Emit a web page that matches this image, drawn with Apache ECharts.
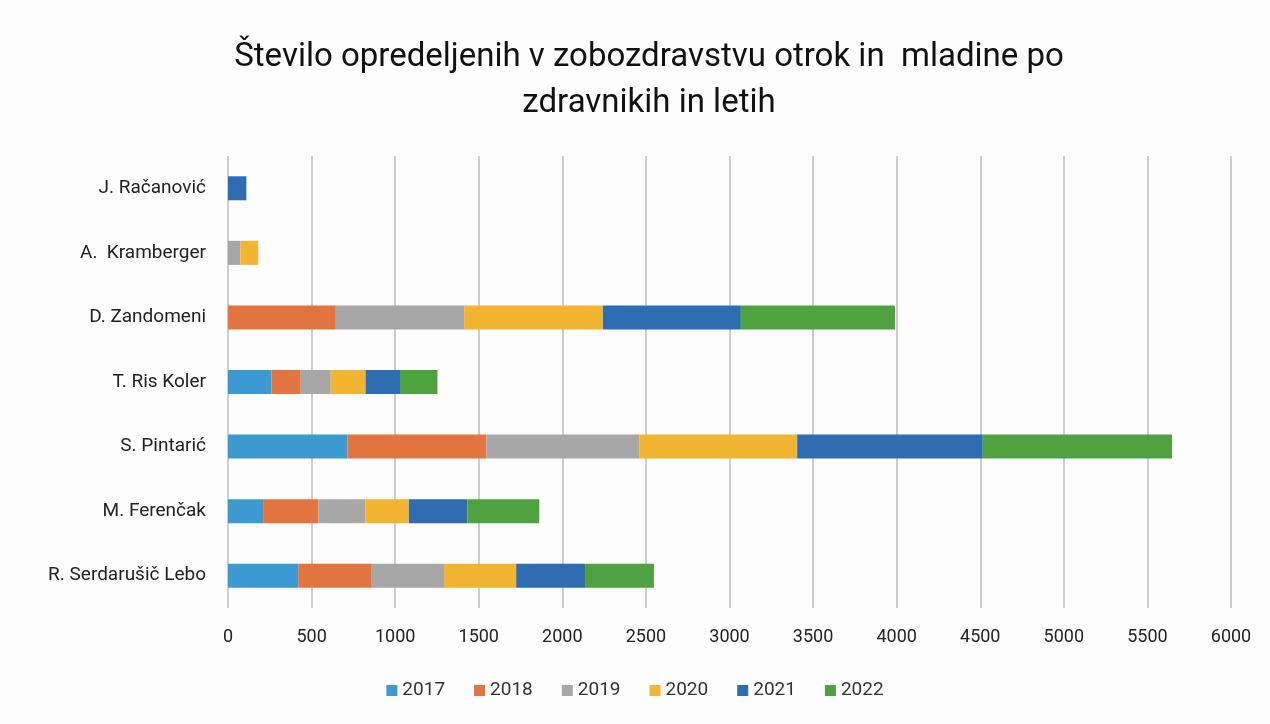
<!DOCTYPE html>
<html>
<head>
<meta charset="utf-8">
<title>Število opredeljenih</title>
<script src="https://cdn.jsdelivr.net/npm/echarts@6/dist/echarts.min.js"></script>
<style>
  html, body { margin: 0; padding: 0; background: #fdfdfd; }
  #chart { width: 1270px; height: 724px; }
</style>
</head>
<body>
<div id="chart"></div>
<script>
// zdravniki od spodaj navzgor
var doctors = ['R. Serdarušič Lebo', 'M. Ferenčak', 'S. Pintarić', 'T. Ris Koler', 'D. Zandomeni', 'A.  Kramberger', 'J. Račanović'];
var years = ['2017', '2018', '2019', '2020', '2021', '2022'];

var y2017 = [420, 210, 715, 260, 0, 0, 0];
var y2018 = [440, 330, 830, 175, 645, 0, 0];
var y2019 = [432, 282, 915, 180, 768, 74, 0];
var y2020 = [432, 260, 945, 208, 830, 107, 0];
var y2021 = [412, 350, 1110, 206, 825, 0, 110];
var y2022 = [412, 430, 1132, 224, 922, 0, 0];

var yearValues = [y2017, y2018, y2019, y2020, y2021, y2022];
var colors = ['#3b9bd1', '#e2743f', '#a7a7a7', '#f1b532', '#2e6db2', '#4fa240'];

var font = 'Roboto, sans-serif';

var series = [];
for (var i = 0; i < years.length; i++) {
  series.push({
    name: years[i],
    type: 'bar',
    stack: 'total',
    barWidth: 24,
    data: yearValues[i],
    itemStyle: { color: colors[i] }
  });
}

var chart = echarts.init(document.getElementById('chart'));
chart.setOption({
  backgroundColor: '#fdfdfd',
  animation: false,
  title: {
    text: 'Število opredeljenih v zobozdravstvu otrok in  mladine po\nzdravnikih in letih',
    left: 644,
    textAlign: 'center',
    top: 30,
    textStyle: {
      fontFamily: font,
      fontSize: 33,
      fontWeight: 'normal',
      color: '#111',
      lineHeight: 46
    }
  },
  legend: {
    data: years,
    bottom: 19,
    left: 'center',
    itemWidth: 11,
    itemHeight: 11,
    itemGap: 29,
    icon: 'rect',
    textStyle: { fontFamily: font, fontSize: 19, color: '#333' }
  },
  grid: {
    left: 228,
    right: 39,
    top: 156,
    bottom: 116,
    containLabel: false
  },
  xAxis: {
    type: 'value',
    min: 0,
    max: 6000,
    interval: 500,
    axisLine: { show: false },
    axisTick: { show: false },
    splitLine: { lineStyle: { color: '#bdbdbd', width: 1.5 } },
    axisLabel: {
      fontFamily: font,
      fontSize: 18,
      color: '#222',
      margin: 20,
      formatter: function(v) {
        return String(v);
      }
    }
  },
  yAxis: {
    type: 'category',
    data: doctors,
    axisLine: { show: false },
    axisTick: { show: false },
    axisLabel: { fontFamily: font, fontSize: 19, color: '#222', margin: 22 }
  },
  series: series
});
</script>
</body>
</html>
